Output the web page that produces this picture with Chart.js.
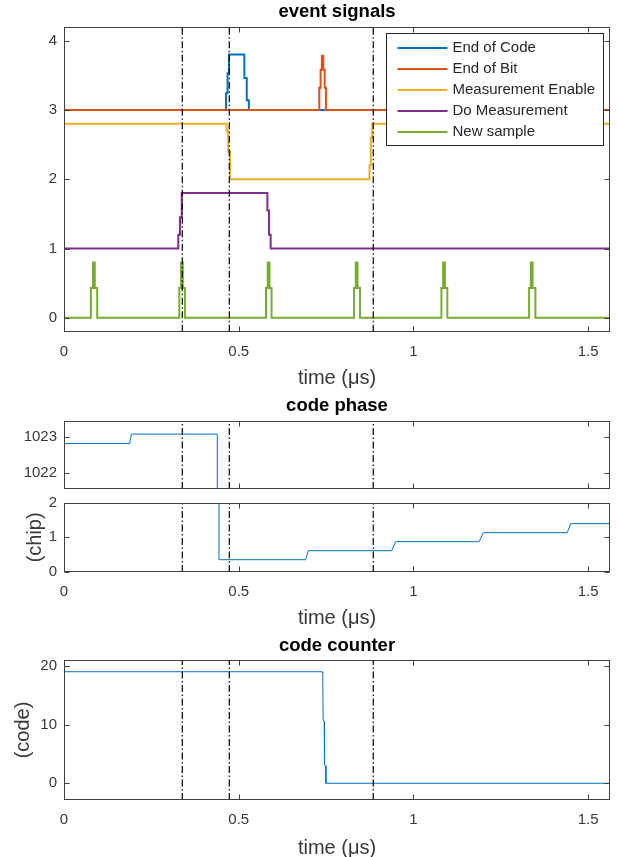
<!DOCTYPE html>
<html>
<head>
<meta charset="utf-8">
<script src="https://cdn.jsdelivr.net/npm/chart.js@4.4.0/dist/chart.umd.min.js"></script>
<style>
  body { margin: 0; background: #fff; width: 618px; height: 857px; position: relative; overflow: hidden; }
  canvas { position: absolute; left: 0; }
</style>
</head>
<body>
<canvas id="events" width="618" height="390" style="top:0"></canvas>
<canvas id="phaseHigh" width="618" height="100" style="top:390px"></canvas>
<canvas id="phaseLow" width="618" height="140" style="top:490px"></canvas>
<canvas id="counter" width="618" height="227" style="top:630px"></canvas>
<script>
// time axis (µs)
const xTicks = [0, 0.5, 1, 1.5];
const xMax = 1.5625;
const markerTimes = [0.3385, 0.473, 0.885];

// event signals: [time, level] at each change (drawn as steps)
const signalNames = ['End of Code', 'End of Bit', 'Measurement Enable', 'Do Measurement', 'New sample'];
const signalColors = ['#0072BD', '#D95319', '#EDB120', '#7E2F8E', '#77AC30'];
const endOfCode = [[0, 3], [0.4635, 3.24], [0.468, 3.53], [0.472, 3.8], [0.516, 3.46], [0.523, 3.14], [0.529, 3], [1.5625, 3]];
const endOfBit = [[0, 3], [0.7306, 3.32], [0.7344, 3.58], [0.738, 3.78], [0.742, 3.58], [0.746, 3.32], [0.7496, 3], [1.5625, 3]];
const measEnable = [[0, 2.8], [0.4655, 2.7], [0.470, 2.4], [0.475, 2.0], [0.8745, 2.2], [0.878, 2.6], [0.882, 2.8], [1.5625, 2.8]];
const doMeasurement = [[0, 1], [0.327, 1.2], [0.332, 1.45], [0.337, 1.8], [0.582, 1.55], [0.5866, 1.2], [0.5914, 1], [1.5625, 1]];
const newSample = [[0, 0],
  [0.077, 0.43], [0.083, 0.8], [0.088, 0.43], [0.095, 0],
  [0.330, 0.43], [0.335, 0.8], [0.340, 0.43], [0.346, 0],
  [0.578, 0.43], [0.583, 0.8], [0.588, 0.43], [0.594, 0],
  [0.830, 0.43], [0.835, 0.8], [0.840, 0.43], [0.847, 0],
  [1.080, 0.43], [1.085, 0.8], [1.090, 0.43], [1.097, 0],
  [1.331, 0.43], [1.336, 0.8], [1.341, 0.43], [1.349, 0],
  [1.5625, 0]];
const signals = [endOfCode, endOfBit, measEnable, doMeasurement, newSample];

// code phase (chip) and code counter, sampled
const codePhase = [[0, 1022.81], [0.188, 1022.81], [0.193, 1023.07], [0.4387, 1023.07], [0.4435, 0.355],
  [0.6915, 0.355], [0.699, 0.615], [0.9376, 0.615], [0.949, 0.875], [1.188, 0.875], [1.2, 1.135],
  [1.44, 1.135], [1.45, 1.395], [1.5625, 1.395]];
const codeCounter = [[0, 19], [0.7385, 19], [0.7405, 18.8], [0.7415, 10.8], [0.7445, 10.6], [0.7455, 3.1],
  [0.7485, 3.0], [0.7495, 0], [1.5625, 0]];

const eventTicks = [0, 1, 2, 3, 4];
const phaseHighTicks = [1022, 1023];
const phaseLowTicks = [0, 1, 2];
const counterTicks = [0, 10, 20];

Chart.defaults.font.family = '"Liberation Sans", Arial, Helvetica, sans-serif';
Chart.defaults.color = '#262626';
Chart.defaults.animation = false;

const axisColor = '#404040';
const tickColor = '#383838';

// MATLAB-like box with inward ticks on all four sides
const axesBox = {
  id: 'axesBox',
  afterDraw(chart) {
    const { ctx, chartArea: a, scales } = chart;
    const L = Math.round(a.left) + 0.5, R = Math.round(a.right) - 0.5;
    const T = Math.round(a.top) + 0.5, B = Math.round(a.bottom) - 0.5;
    ctx.save();
    ctx.strokeStyle = axisColor;
    ctx.lineWidth = 1;
    ctx.beginPath();
    scales.x.ticks.forEach(t => {
      const px = Math.round(scales.x.getPixelForValue(t.value)) + 0.5;
      ctx.moveTo(px, B); ctx.lineTo(px, B - 5);
      ctx.moveTo(px, T); ctx.lineTo(px, T + 5);
    });
    scales.y.ticks.forEach(t => {
      const py = Math.round(scales.y.getPixelForValue(t.value)) + 0.5;
      ctx.moveTo(L, py); ctx.lineTo(L + 5, py);
      ctx.moveTo(R, py); ctx.lineTo(R - 5, py);
    });
    ctx.stroke();
    ctx.strokeRect(L, T, R - L, B - T);
    ctx.restore();
  }
};

// legend box drawn inside the top-right of the plot area
const boxedLegend = {
  id: 'boxedLegend',
  afterDatasetsDraw(chart) {
    const { ctx, chartArea: a } = chart;
    const w = 217, h = 112;
    const x0 = Math.round(a.right - 7 - w) + 0.5, y0 = Math.round(a.top + 6) + 0.5;
    ctx.save();
    ctx.fillStyle = '#fff';
    ctx.fillRect(x0, y0, w, h);
    ctx.strokeStyle = '#262626';
    ctx.lineWidth = 1;
    ctx.strokeRect(x0, y0, w, h);
    ctx.font = '15px "Liberation Sans", Arial, sans-serif';
    ctx.textBaseline = 'middle';
    ctx.fillStyle = '#262626';
    const items = chart.data.datasets.filter(d => signalNames.includes(d.label));
    items.forEach((d, i) => {
      const y = y0 + 14.5 + i * 21;
      ctx.strokeStyle = d.borderColor;
      ctx.lineWidth = 2;
      ctx.beginPath();
      ctx.moveTo(x0 + 11, y); ctx.lineTo(x0 + 61, y);
      ctx.stroke();
      ctx.fillText(d.label, x0 + 66, y);
    });
    ctx.restore();
  }
};

function markerSets(lo, hi) {
  return markerTimes.map(t => ({
    label: 'marker',
    data: [[t, lo], [t, hi]],
    borderColor: '#000',
    borderWidth: 1.2,
    borderDash: [7, 2.5, 1.5, 2.5],
    pointRadius: 0,
    order: 0,
    clip: 0
  }));
}

const plainLabel = v => String(v);

function xScale(opts) {
  return {
    type: 'linear', min: 0, max: xMax,
    afterBuildTicks: s => { s.ticks = xTicks.map(v => ({ value: v })); },
    grid: { display: false, drawTicks: false },
    border: { display: false },
    ticks: { display: opts.labels, padding: 11, color: tickColor, font: { size: 15 }, maxRotation: 0, autoSkip: false, callback: plainLabel },
    title: { display: opts.labels, text: 'time (μs)', color: tickColor, font: { size: 20 }, padding: { top: 0, bottom: opts.titlePad || 0 } },
    afterFit: s => { s.height = opts.height; s.paddingLeft = 0; s.paddingRight = 0; }
  };
}

function yScale(min, max, ticks, title, titlePad) {
  return {
    type: 'linear', min: min, max: max,
    afterBuildTicks: s => { s.ticks = ticks.map(v => ({ value: v })); },
    grid: { display: false, drawTicks: false },
    border: { display: false },
    ticks: { padding: 7, color: tickColor, font: { size: 15 }, callback: plainLabel },
    title: { display: !!title, text: title, color: tickColor, font: { size: 20 }, padding: { top: titlePad || 0, bottom: 0 } },
    afterFit: s => { s.width = 64; s.paddingTop = 0; s.paddingBottom = 0; }
  };
}

function titleOpts(text, top, bottom) {
  return {
    display: true, text: text, fullSize: false, color: '#000',
    font: { size: 18.5, weight: 'bold' }, padding: { top: top, bottom: bottom }
  };
}

// event signals
new Chart(document.getElementById('events'), {
  type: 'line',
  data: {
    datasets: signals.map((s, i) => ({
      label: signalNames[i],
      data: s,
      borderColor: signalColors[i],
      backgroundColor: signalColors[i],
      borderWidth: 2,
      stepped: true,
      pointRadius: 0,
      order: 5 - i
    })).concat(markerSets(-0.2, 4.2))
  },
  options: {
    responsive: false,
    layout: { padding: { left: 0, right: 8, top: 0, bottom: 0 } },
    plugins: { legend: { display: false }, tooltip: { enabled: false }, title: titleOpts('event signals', 0.5, 4) },
    scales: { x: xScale({ labels: true, height: 58.3, titlePad: 0 }), y: yScale(-0.2, 4.2, eventTicks) }
  },
  plugins: [boxedLegend, axesBox]
});

// code phase, upper part (near 1023 chips)
new Chart(document.getElementById('phaseHigh'), {
  type: 'line',
  data: {
    datasets: [{ label: 'code phase', data: codePhase, borderColor: '#0072BD', borderWidth: 1, pointRadius: 0, order: 1, clip: 0 }]
      .concat(markerSets(1021.56, 1023.43))
  },
  options: {
    responsive: false,
    layout: { padding: { left: 0, right: 8, top: 0, bottom: 1 } },
    plugins: { legend: { display: false }, tooltip: { enabled: false }, title: titleOpts('code phase', 4.4, 4.4) },
    scales: { x: xScale({ labels: false, height: 0 }), y: yScale(1021.56, 1023.43, phaseHighTicks) }
  },
  plugins: [axesBox]
});

// code phase, lower part (0..2 chips)
new Chart(document.getElementById('phaseLow'), {
  type: 'line',
  data: {
    datasets: [{ label: 'code phase', data: codePhase, borderColor: '#0072BD', borderWidth: 1, pointRadius: 0, order: 1, clip: 0 }]
      .concat(markerSets(0, 2))
  },
  options: {
    responsive: false,
    layout: { padding: { left: 0, right: 8, top: 12.7, bottom: 0 } },
    plugins: { legend: { display: false }, tooltip: { enabled: false } },
    scales: { x: xScale({ labels: true, height: 58, titlePad: 0 }), y: yScale(0, 2, phaseLowTicks, '(chip)', 23) }
  },
  plugins: [axesBox]
});

// code counter
new Chart(document.getElementById('counter'), {
  type: 'line',
  data: {
    datasets: [{ label: 'code counter', data: codeCounter, borderColor: '#0072BD', borderWidth: 1, pointRadius: 0, order: 1, clip: 0 }]
      .concat(markerSets(-2.85, 21))
  },
  options: {
    responsive: false,
    layout: { padding: { left: 0, right: 8, top: 0, bottom: 0 } },
    plugins: { legend: { display: false }, tooltip: { enabled: false }, title: titleOpts('code counter', 4.4, 3.4) },
    scales: { x: xScale({ labels: true, height: 57, titlePad: -3 }), y: yScale(-2.85, 21, counterTicks, '(code)', 11) }
  },
  plugins: [axesBox]
});
</script>
</body>
</html>
